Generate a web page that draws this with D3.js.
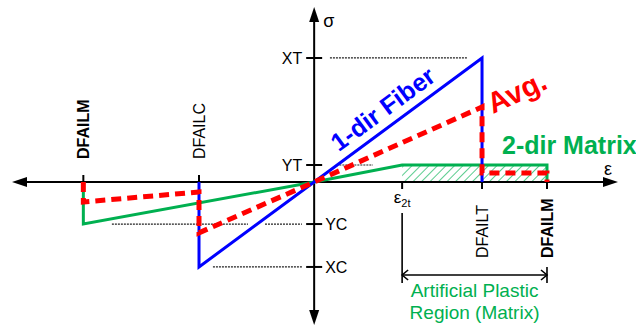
<!DOCTYPE html>
<html>
<head>
<meta charset="utf-8">
<script src="https://cdn.jsdelivr.net/npm/d3@7"></script>
<style>
  html, body { margin: 0; padding: 0; background: #fff; overflow: hidden; }
  svg { display: block; font-family: "Liberation Sans", Arial, sans-serif; }
</style>
</head>
<body>
<script>
// Axis extents (strain ε, stress σ), normalised so DFAILT = 1 and XT = 1
const strainExtent = [-1.8, 1.81];
const stressExtent = [-1.153, 1.411];

// Strain tick marks and labels
const strainTickLabels = ["DFAILM", "DFAILC", "ε2t", "DFAILT", "DFAILM"];
const strainTickValues = [-1.375, -0.686, 0.524, 1.0, 1.387];

// Stress tick marks and labels
const stressTickLabels = ["XT", "YT", "YC", "XC"];
const stressTickValues = [1.0, 0.137, -0.339, -0.685];

// 1-dir fiber response
const fiberStrain = [-0.686, -0.686, 0, 1.0, 1.0];
const fiberStress = [0, -0.685, 0, 1.0, 0];

// 2-dir matrix response
const matrixStrain = [-1.375, -1.375, 0, 0.524, 1.387, 1.387];
const matrixStress = [0, -0.339, 0, 0.137, 0.137, 0];

// Averaged response
const avgStrain = [-1.375, -1.375, -0.686, -0.686, 0, 1.0, 1.0, 1.387, 1.387];
const avgStress = [0, -0.161, -0.081, -0.41, 0, 0.605, 0.073, 0.073, 0];

// Artificial plastic region of the matrix (strain range, stress level)
const plasticStrain = [0.524, 1.387];
const plasticStress = [0, 0.137];

// Dotted guide lines from the stress ticks: level, strain from, strain to
const guideStress = [1.0, 0.137, -0.339, -0.339, -0.685];
const guideFrom   = [0.094, 0.15, -1.205, -0.293, -0.603];
const guideTo     = [0.910, 0.35, -0.394, -0.073, -0.073];

const W = 636, H = 327;
const BLUE = "#0000ff", RED = "#ff0000", GREEN = "#00b050";

const x = d3.scaleLinear().domain(strainExtent).range([12, 618]);
const y = d3.scaleLinear().domain(stressExtent).range([325, 7]);

const svg = d3.select("body").append("svg").attr("width", W).attr("height", H);

// hatch pattern for the plastic region
const defs = svg.append("defs");
defs.append("pattern")
  .attr("id", "hatch").attr("patternUnits", "userSpaceOnUse")
  .attr("width", 6).attr("height", 6)
  .attr("patternTransform", "rotate(45)")
  .append("line")
  .attr("x1", 0).attr("y1", 0).attr("x2", 0).attr("y2", 6)
  .attr("stroke", GREEN).attr("stroke-width", 1.3);

svg.append("rect")
  .attr("x", x(plasticStrain[0])).attr("y", y(plasticStress[1]))
  .attr("width", x(plasticStrain[1]) - x(plasticStrain[0]))
  .attr("height", y(plasticStress[0]) - y(plasticStress[1]))
  .attr("fill", "url(#hatch)");

// dotted guides
svg.append("g").selectAll("line").data(guideStress).join("line")
  .attr("x1", (d, i) => x(guideFrom[i])).attr("x2", (d, i) => x(guideTo[i]))
  .attr("y1", d => y(d)).attr("y2", d => y(d))
  .attr("stroke", "#222").attr("stroke-width", 1.2).attr("stroke-dasharray", "2,1");

// axes
const axes = svg.append("g").attr("stroke", "#000").attr("stroke-width", 2);
const x0 = x(0), y0 = y(0);
axes.append("line").attr("x1", x(strainExtent[0]) + 12).attr("x2", x(strainExtent[1]) - 12)
  .attr("y1", y0).attr("y2", y0);
axes.append("line").attr("y1", y(stressExtent[1]) + 12).attr("y2", y(stressExtent[0]) - 12)
  .attr("x1", x0).attr("x2", x0);

const heads = svg.append("g").attr("fill", "#000");
const L = 15, HW = 5;
const xl = x(strainExtent[0]), xr = x(strainExtent[1]);
const yt = y(stressExtent[1]), yb = y(stressExtent[0]);
heads.append("path").attr("d", `M${xl},${y0}L${xl + L},${y0 - HW}L${xl + L},${y0 + HW}Z`);
heads.append("path").attr("d", `M${xr},${y0}L${xr - L},${y0 - HW}L${xr - L},${y0 + HW}Z`);
heads.append("path").attr("d", `M${x0},${yt}L${x0 - HW},${yt + L}L${x0 + HW},${yt + L}Z`);
heads.append("path").attr("d", `M${x0},${yb}L${x0 - HW},${yb - L}L${x0 + HW},${yb - L}Z`);

// stress ticks
axes.append("g").selectAll("line").data(stressTickValues).join("line")
  .attr("x1", x0 - 8).attr("x2", x0 + 8)
  .attr("y1", d => y(d)).attr("y2", d => y(d));

// strain ticks: above the axis on the compression side, below on the tension side
axes.append("g").selectAll("line").data(strainTickValues).join("line")
  .attr("x1", d => x(d)).attr("x2", d => x(d))
  .attr("y1", d => d < 0 ? y0 - 7 : y0).attr("y2", d => d < 0 ? y0 : y0 + 7);

// stress tick labels
svg.append("g").selectAll("text").data(stressTickLabels).join("text")
  .attr("x", (d, i) => stressTickValues[i] > 0 ? x0 - 12 : x0 + 11)
  .attr("y", (d, i) => y(stressTickValues[i]))
  .attr("dy", "0.36em")
  .attr("text-anchor", (d, i) => stressTickValues[i] > 0 ? "end" : "start")
  .attr("font-size", 16).attr("fill", "#000")
  .text(d => d);

// axis titles
svg.append("text").attr("x", x0 + 9).attr("y", 27).attr("font-size", 18).text("σ");
svg.append("text").attr("x", 604).attr("y", 175).attr("font-size", 18).text("ε");

// strain tick labels (rotated)
strainTickLabels.forEach((lab, i) => {
  const v = strainTickValues[i];
  const px = x(v);
  if (lab === "ε2t") {
    const t = svg.append("text").attr("x", px).attr("y", 203)
      .attr("text-anchor", "middle").attr("font-size", 17);
    t.append("tspan").text("ε");
    t.append("tspan").attr("dy", 4).attr("font-size", 11).text("2t");
    return;
  }
  const bold = lab === "DFAILM";
  const baseY = v < 0 ? 159 : 258;
  svg.append("text")
    .attr("transform", `translate(${px + 6},${baseY}) rotate(-90)`)
    .attr("font-size", 16)
    .attr("font-weight", bold ? "bold" : "normal")
    .text(lab);
});

// response curves
const line = d3.line();
svg.append("path")
  .attr("d", line(matrixStrain.map((e, i) => [x(e), y(matrixStress[i])])))
  .attr("fill", "none").attr("stroke", GREEN).attr("stroke-width", 3)
  .attr("stroke-linejoin", "miter");
svg.append("path")
  .attr("d", line(fiberStrain.map((e, i) => [x(e), y(fiberStress[i])])))
  .attr("fill", "none").attr("stroke", BLUE).attr("stroke-width", 3)
  .attr("stroke-linejoin", "miter");
svg.append("path")
  .attr("d", line(avgStrain.map((e, i) => [x(e), y(avgStress[i])])))
  .attr("fill", "none").attr("stroke", RED).attr("stroke-width", 5)
  .attr("stroke-dasharray", "10,6");

// curve labels
const fiberAngle = Math.atan2(y(fiberStress[3]) - y0, x(fiberStrain[3]) - x0) * 180 / Math.PI;
svg.append("text")
  .attr("transform", `translate(388,116) rotate(${fiberAngle})`)
  .attr("text-anchor", "middle").attr("font-size", 25).attr("font-weight", "bold")
  .attr("fill", BLUE).text("1-dir Fiber");
svg.append("text")
  .attr("transform", `translate(521,101) rotate(-25)`)
  .attr("text-anchor", "middle").attr("font-size", 29).attr("font-weight", "bold")
  .attr("fill", RED).text("Avg.");
svg.append("text")
  .attr("x", 502).attr("y", 154)
  .attr("font-size", 25).attr("font-weight", "bold")
  .attr("fill", GREEN).text("2-dir Matrix");

// artificial plastic region dimension
const xa = x(plasticStrain[0]), xb = x(plasticStrain[1]);
const dim = svg.append("g").attr("stroke", "#000").attr("fill", "none").attr("stroke-width", 1.6);
dim.append("line").attr("x1", xa).attr("x2", xa).attr("y1", 213).attr("y2", 283);
dim.append("line").attr("x1", xb).attr("x2", xb).attr("y1", 267).attr("y2", 283);
dim.append("line").attr("x1", xa).attr("x2", xb).attr("y1", 275).attr("y2", 275);
dim.append("path").attr("d", `M${xa + 6},${270}L${xa},${275}L${xa + 6},${280}`);
dim.append("path").attr("d", `M${xb - 6},${270}L${xb},${275}L${xb - 6},${280}`);

svg.append("text").attr("x", (xa + xb) / 2).attr("y", 297)
  .attr("text-anchor", "middle").attr("font-size", 19).attr("fill", GREEN)
  .text("Artificial Plastic");
svg.append("text").attr("x", (xa + xb) / 2).attr("y", 319)
  .attr("text-anchor", "middle").attr("font-size", 19).attr("fill", GREEN)
  .text("Region (Matrix)");
</script>
</body>
</html>
